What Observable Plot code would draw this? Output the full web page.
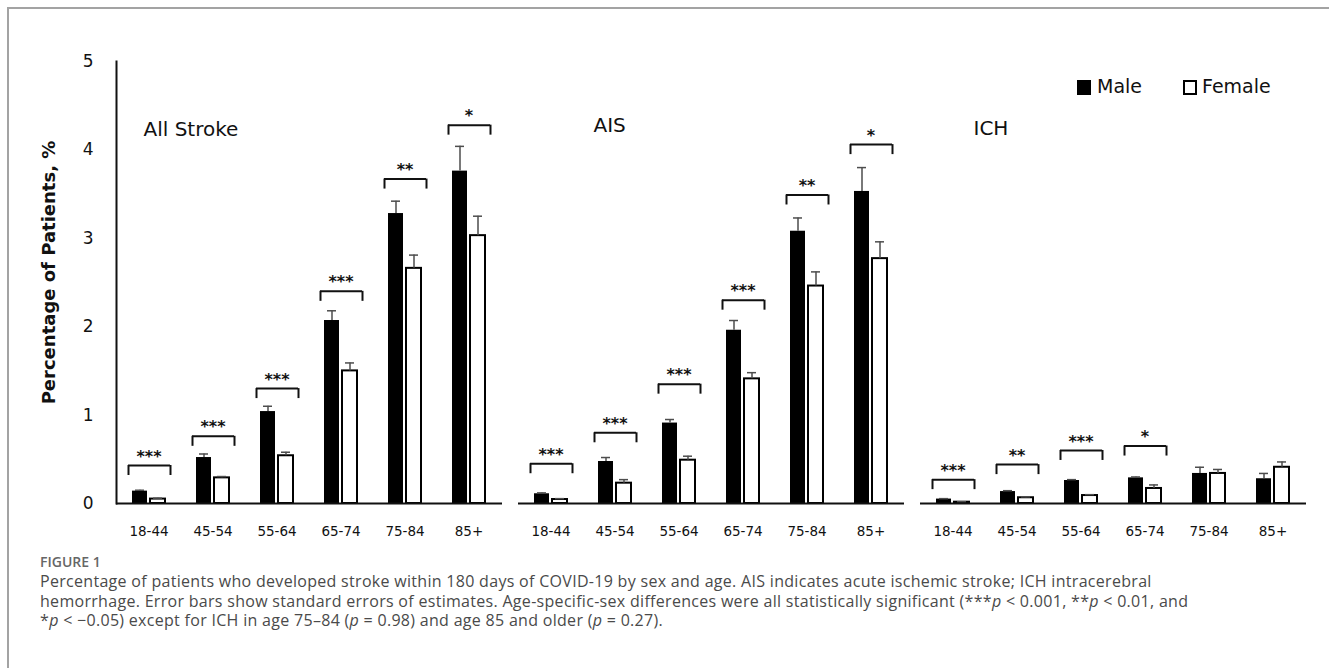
<!DOCTYPE html>
<html>
<head>
<meta charset="utf-8">
<script src="https://cdn.jsdelivr.net/npm/d3@7"></script>
<script src="https://cdn.jsdelivr.net/npm/@observablehq/plot@0.6"></script>
<style>
html, body { margin: 0; padding: 0; background: #fff; }
#wrap { position: relative; width: 1329px; height: 668px; overflow: hidden; background: #fff; }
#chart { position: absolute; left: 0; top: 0; }
#border { position: absolute; left: 7px; top: 7px; width: 1400px; height: 800px; border: 2px solid #a3a3a3; box-sizing: border-box; pointer-events: none; }
#legend { position: absolute; left: 0; top: 0; font-family: "DejaVu Sans", sans-serif; font-size: 19px; color: #111; }
#legend .sw { position: absolute; box-sizing: border-box; width: 14px; height: 15px; }
#legend .lt { position: absolute; line-height: 20px; }
#caption { position: absolute; left: 40px; top: 552px; font-family: "Open Sans", sans-serif; white-space: nowrap; }
#caption .fig { font-size: 14px; font-weight: 600; color: #666; line-height: 20px; }
#caption .ln { font-size: 16px; letter-spacing: 0.3px; color: #4a4a4a; line-height: 19.5px; height: 19.5px; }
</style>
</head>
<body>
<div id="wrap">
  <div id="chart"></div>
  <div id="legend">
    <span class="sw" style="left:1077px;top:80px;background:#000;"></span>
    <span class="lt" style="left:1097px;top:76px;">Male</span>
    <span class="sw" style="left:1183px;top:80px;border:2px solid #000;background:#fff;"></span>
    <span class="lt" style="left:1202px;top:76px;">Female</span>
  </div>
  <div id="caption">
    <div class="fig">FIGURE 1</div>
    <div class="ln">Percentage of patients who developed stroke within 180 days of COVID-19 by sex and age. AIS indicates acute ischemic stroke; ICH intracerebral</div>
    <div class="ln">hemorrhage. Error bars show standard errors of estimates. Age-specific-sex differences were all statistically significant (***<i>p</i> &lt; 0.001, **<i>p</i> &lt; 0.01, and</div>
    <div class="ln">*<i>p</i> &lt; −0.05) except for ICH in age 75–84 (<i>p</i> = 0.98) and age 85 and older (<i>p</i> = 0.27).</div>
  </div>
  <div id="border"></div>
</div>
<script>
// ---- data ----
const ages = ["18-44", "45-54", "55-64", "65-74", "75-84", "85+"];
const panels = ["All Stroke", "AIS", "ICH"];
const yTicks = [0, 1, 2, 3, 4, 5];
const yTitle = "Percentage of Patients, %";

const allStrokeMale     = [0.14, 0.52, 1.04, 2.07, 3.28, 3.76];
const allStrokeMaleSE   = [0.01, 0.04, 0.06, 0.11, 0.14, 0.28];
const allStrokeFemale   = [0.05, 0.29, 0.54, 1.50, 2.66, 3.03];
const allStrokeFemaleSE = [0.01, 0.015, 0.04, 0.09, 0.15, 0.22];

const aisMale     = [0.11, 0.475, 0.91, 1.96, 3.08, 3.53];
const aisMaleSE   = [0.01, 0.045, 0.04, 0.11, 0.15, 0.27];
const aisFemale   = [0.045, 0.23, 0.49, 1.41, 2.46, 2.77];
const aisFemaleSE = [0.01, 0.04, 0.045, 0.07, 0.16, 0.19];

const ichMale     = [0.05, 0.135, 0.26, 0.29, 0.34, 0.28];
const ichMaleSE   = [0.005, 0.01, 0.01, 0.01, 0.07, 0.06];
const ichFemale   = [0.015, 0.065, 0.09, 0.17, 0.34, 0.41];
const ichFemaleSE = [0.005, 0.01, 0.01, 0.04, 0.045, 0.06];

// significance brackets (height in %, label)
const allStrokeBracket = [0.43, 0.76, 1.30, 2.40, 3.67, 4.28];
const allStrokeStars   = ["***", "***", "***", "***", "**", "*"];
const aisBracket = [0.45, 0.80, 1.35, 2.30, 3.49, 4.06];
const aisStars   = ["***", "***", "***", "***", "**", "*"];
const ichBracket = [0.27, 0.44, 0.60, 0.65, null, null];
const ichStars   = ["***", "**", "***", "*", "", ""];

// ---- tables ----
const series = {
  "All Stroke": {m: allStrokeMale, ms: allStrokeMaleSE, f: allStrokeFemale, fs: allStrokeFemaleSE, b: allStrokeBracket, s: allStrokeStars},
  "AIS": {m: aisMale, ms: aisMaleSE, f: aisFemale, fs: aisFemaleSE, b: aisBracket, s: aisStars},
  "ICH": {m: ichMale, ms: ichMaleSE, f: ichFemale, fs: ichFemaleSE, b: ichBracket, s: ichStars}
};
const male = [], female = [], brackets = [];
for (const p of panels) {
  const d = series[p];
  ages.forEach((a, i) => {
    male.push({panel: p, age: a, value: d.m[i], se: d.ms[i]});
    female.push({panel: p, age: a, value: d.f[i], se: d.fs[i]});
    if (d.b[i] != null) brackets.push({panel: p, age: a, y: d.b[i], stars: d.s[i]});
  });
}
const titles = [{panel: "All Stroke", dx: 27, dy: 68}, {panel: "AIS", dx: 75, dy: 64}, {panel: "ICH", dx: 53, dy: 67}];

const FONT = "DejaVu Sans, sans-serif";

function build(bw) {
  const half = bw / 2 + 1.5;
  const cM = bw / 4 - 0.75;       // male bar centre from band start
  const cF = 3 * bw / 4 + 0.75;   // female bar centre from band start
  const capHalf = 4.5;
  const errStroke = "#4d4d4d";
  return Plot.plot({
    width: 1329,
    height: 545,
    marginLeft: 116,
    marginRight: 23,
    marginTop: 61,
    marginBottom: 42,
    style: {fontFamily: FONT, background: "transparent", color: "#111"},
    fx: {domain: panels, paddingInner: 0.04, paddingOuter: 0, axis: null, label: null},
    x: {type: "band", domain: ages, paddingInner: 0.48, paddingOuter: 0.22, axis: null, label: null},
    y: {domain: [0, 5], axis: null, label: null},
    marks: [
      Plot.axisY(yTicks, {tickSize: 0, tickPadding: 23, fontSize: 17, tickFormat: d3.format("d"), label: null, facetAnchor: "left"}),
      Plot.axisX({tickSize: 0, tickPadding: 23, fontSize: 13.5, label: null}),
      Plot.frame({anchor: "left", facetAnchor: "left", stroke: "#111", strokeWidth: 2}),
      Plot.text([yTitle], {frameAnchor: "left", textAnchor: "middle", rotate: -90, dx: -67, dy: -10, fontSize: 18, fontWeight: "bold", facetAnchor: "left", fill: "#111"}),
      // panel titles
      ...titles.map(t => Plot.text([t], {fx: "panel", text: "panel", frameAnchor: "top-left", textAnchor: "start", lineAnchor: "middle", dx: t.dx, dy: t.dy, fontSize: 20, fill: "#111"})),
      // bars
      Plot.barY(male, {fx: "panel", x: "age", y: "value", fill: "#000", insetRight: half}),
      Plot.barY(female, {fx: "panel", x: "age", y: "value", fill: "#fff", stroke: "#000", strokeWidth: 2, insetLeft: half}),
      // error bars
      Plot.ruleX(male, {fx: "panel", x: "age", y1: "value", y2: d => d.value + d.se, dx: cM - bw / 2, stroke: errStroke, strokeWidth: 1.5}),
      Plot.ruleX(female, {fx: "panel", x: "age", y1: "value", y2: d => d.value + d.se, dx: cF - bw / 2, stroke: errStroke, strokeWidth: 1.5}),
      Plot.tickY(male, {fx: "panel", x: "age", y: d => d.value + d.se, insetLeft: cM - capHalf, insetRight: bw - cM - capHalf, stroke: errStroke, strokeWidth: 1.5}),
      Plot.tickY(female, {fx: "panel", x: "age", y: d => d.value + d.se, insetLeft: cF - capHalf, insetRight: bw - cF - capHalf, stroke: errStroke, strokeWidth: 1.5}),
      // baseline
      Plot.ruleY([0], {stroke: "#111", strokeWidth: 2}),
      // significance brackets
      Plot.tickY(brackets, {fx: "panel", x: "age", y: "y", insetLeft: -4, insetRight: -5, stroke: "#111", strokeWidth: 2}),
      Plot.ruleX(brackets, {fx: "panel", x: "age", y1: "y", y2: "y", insetBottom: -10, dx: -(bw / 2 + 4), stroke: "#111", strokeWidth: 2}),
      Plot.ruleX(brackets, {fx: "panel", x: "age", y1: "y", y2: "y", insetBottom: -10, dx: bw / 2 + 5, stroke: "#111", strokeWidth: 2}),
      Plot.text(brackets, {fx: "panel", x: "age", y: "y", text: "stars", dy: -9, fontSize: 16, fontWeight: "bold", fill: "#111"})
    ]
  });
}

let chart = build(34);
const bw = chart.scale("x").bandwidth;
chart = build(bw);
document.getElementById("chart").appendChild(chart);
</script>
</body>
</html>
